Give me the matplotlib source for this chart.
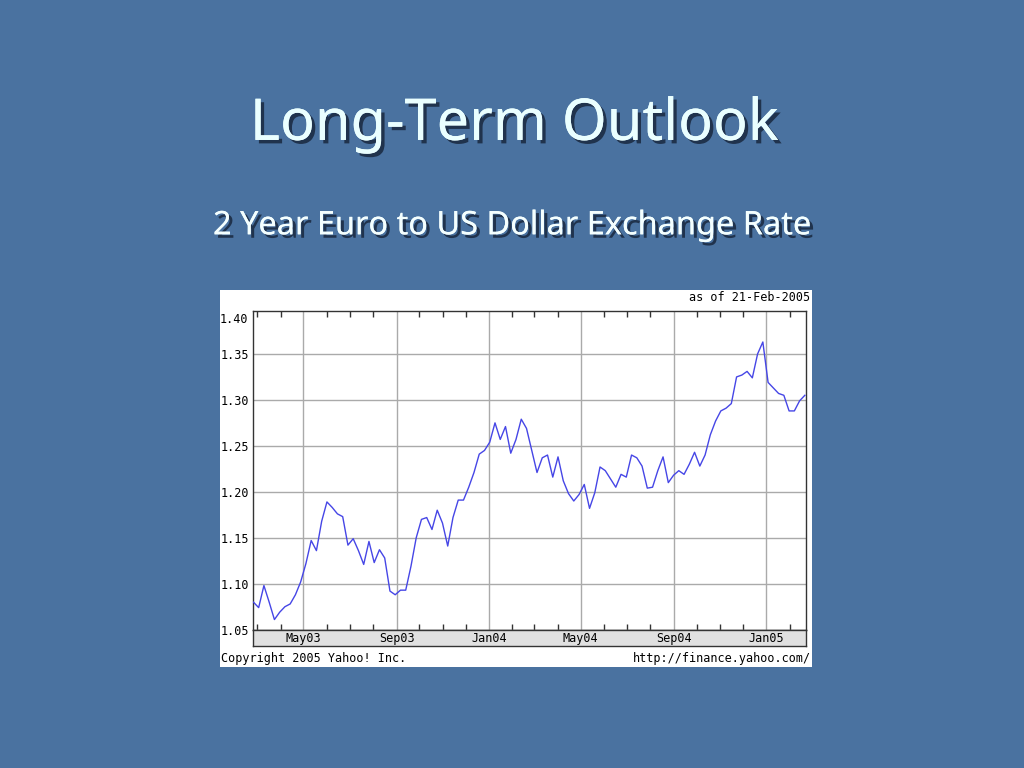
import matplotlib
matplotlib.use("Agg")
from matplotlib import pyplot as plt
import matplotlib.dates as mdates
import matplotlib.patheffects as pe
from matplotlib.patches import Rectangle
import numpy as np
import pandas as pd

# weekly EUR/USD close
rate = [1.080, 1.074, 1.098, 1.080, 1.061, 1.069, 1.075, 1.078, 1.088, 1.102,
        1.122, 1.147, 1.136, 1.168, 1.189, 1.183, 1.176, 1.173, 1.142, 1.149,
        1.136, 1.121, 1.146, 1.123, 1.137, 1.128, 1.092, 1.088, 1.093,
        1.093, 1.119, 1.150, 1.170, 1.172, 1.159, 1.180, 1.166, 1.141, 1.172,
        1.191, 1.191, 1.205, 1.221, 1.241, 1.245, 1.254, 1.275, 1.257, 1.271,
        1.242, 1.257, 1.279, 1.269, 1.245, 1.221,
        1.237, 1.240, 1.216, 1.238, 1.212, 1.198, 1.190, 1.197, 1.208, 1.182,
        1.199, 1.227, 1.223, 1.214, 1.205, 1.219, 1.216, 1.240, 1.237, 1.228,
        1.204, 1.205, 1.223, 1.238, 1.210, 1.218,
        1.223, 1.219, 1.230, 1.243, 1.228, 1.240, 1.262, 1.277, 1.288, 1.291,
        1.296, 1.325, 1.327, 1.331, 1.324, 1.350, 1.363, 1.319, 1.313, 1.307,
        1.305, 1.288, 1.288, 1.299, 1.305]
start_date = "2003-02-24"
end_date = "2005-02-21"

y_ticks = [1.05, 1.10, 1.15, 1.20, 1.25, 1.30, 1.35]
y_top_label = "1.40"
x_tick_dates = ["2003-05-01", "2003-09-01", "2004-01-01",
                "2004-05-01", "2004-09-01", "2005-01-01"]
x_tick_labels = ["May03", "Sep03", "Jan04", "May04", "Sep04", "Jan05"]

title = "Long-Term Outlook"
subtitle = "2 Year Euro to US Dollar Exchange Rate"
as_of = "as of 21-Feb-2005"
copyright_txt = "Copyright 2005 Yahoo! Inc."
url_txt = "http://finance.yahoo.com/"

bg = "#4a72a0"
mono = "DejaVu Sans Mono"
head_font = "Noto Sans"

dates = pd.to_datetime(np.linspace(pd.Timestamp(start_date).value,
                                   pd.Timestamp(end_date).value, len(rate)))
tick_dates = pd.to_datetime(x_tick_dates)

fig = plt.figure(figsize=(10.24, 7.68), dpi=100, facecolor=bg)

shadow = [pe.withSimplePatchShadow(offset=(2.5, -2.5), shadow_rgbFace="#1c2c44", alpha=0.9),
          pe.Normal()]
fig.text(0.502, 0.838, title, ha="center", va="center", fontsize=41.5,
         color="#eaffff", family=head_font, path_effects=shadow)
fig.text(0.5, 0.706, subtitle, ha="center", va="center", fontsize=23.4,
         color="#f4ffff", family=head_font, path_effects=shadow)

# white chart panel
fig.patches.append(Rectangle((0.2148, 0.1315), 0.578, 0.491, transform=fig.transFigure,
                             facecolor="white", edgecolor="none", zorder=-1))

ax = fig.add_axes([0.2471, 0.1801, 0.540, 0.4153])
ax.plot(dates, rate, color="#4646e6", lw=1.0, zorder=3)
xmin = pd.Timestamp(start_date) - pd.Timedelta(days=0.5)
xmax = pd.Timestamp(end_date) + pd.Timedelta(days=1.5)
ax.set_xlim(xmin, xmax)
ax.set_ylim(1.05, 1.397)

ax.set_yticks(y_ticks)
ax.set_yticklabels(["%.2f" % v for v in y_ticks], family=mono, fontsize=8.5)
ax.text(-0.009, 1.0 - 0.006, y_top_label, transform=ax.transAxes, ha="right", va="top",
        family=mono, fontsize=8.5)
ax.tick_params(axis="y", length=0, pad=3)

ax.set_xticks(tick_dates)
ax.set_xticklabels([])
ax.xaxis.set_minor_locator(mdates.MonthLocator())
ax.tick_params(axis="x", which="both", direction="in", top=True, bottom=True, length=0)
ax.tick_params(axis="x", which="minor", length=4, width=1, color="#333333")
ax.grid(True, which="major", color="#aaaaaa", lw=1)
for s in ax.spines.values():
    s.set_color("#333333")
    s.set_linewidth(1)

band = fig.add_axes([0.2471, 0.1585, 0.540, 0.0216], sharex=ax)
band.set_facecolor("#e0e0e0")
band.set_yticks([])
band.tick_params(axis="x", which="both", length=0, labelbottom=False,
                 top=False, bottom=False)
for d, lab in zip(tick_dates, x_tick_labels):
    band.text(d, 0.45, lab, transform=band.get_xaxis_transform(), ha="center", va="center",
              family=mono, fontsize=8.5)
for s in band.spines.values():
    s.set_color("#333333")
    s.set_linewidth(1)

fig.text(0.791, 0.612, as_of, ha="right", va="center", family=mono, fontsize=8.5)
fig.text(0.2158, 0.1432, copyright_txt, ha="left", va="center", family=mono, fontsize=8.5)
fig.text(0.792, 0.1432, url_txt, ha="right", va="center", family=mono, fontsize=8.5)

fig.savefig("out.png", dpi=100, facecolor=bg)
